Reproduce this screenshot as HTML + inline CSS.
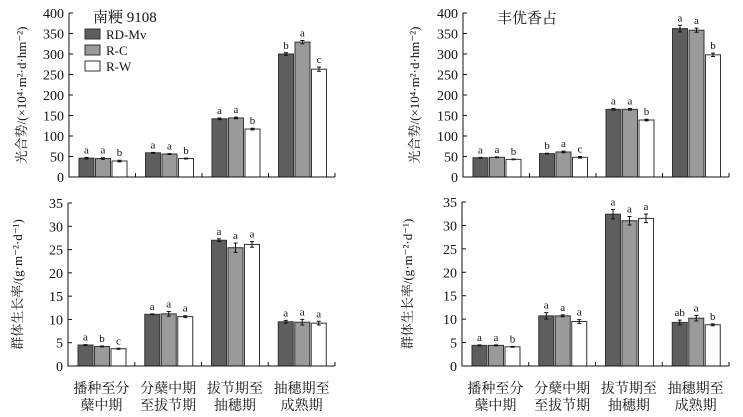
<!DOCTYPE html>
<html><head><meta charset="utf-8"><style>body{margin:0;background:#fff}svg{display:block}text{font-family:"Liberation Serif","Noto Serif CJK SC",serif;fill:#111}</style></head>
<body>
<svg id="c" width="743" height="417"></svg>
<script>
const categories=[["播种至分","蘖中期"],["分蘖中期","至拔节期"],["拔节期至","抽穗期"],["抽穗期至","成熟期"]];
const seriesNames=["RD-Mv","R-C","R-W"];
const tlValues=[[46,45,39],[59,56,45],[142,144,117],[300,329,263]];
const tlErr=[[2,2,2],[1,1,1],[2,2,2],[3,4,5]];
const tlLetters=[["a","a","b"],["a","a","b"],["a","a","b"],["b","a","c"]];
const trValues=[[47,48,43],[57,61,48],[165,165,139],[362,358,298]];
const trErr=[[1,1,1],[1,2,2],[2,2,2],[8,5,4]];
const trLetters=[["a","a","b"],["b","a","c"],["a","a","b"],["a","a","b"]];
const blValues=[[4.5,4.2,3.7],[11.1,11.2,10.6],[27,25.4,26.1],[9.5,9.4,9.2]];
const blErr=[[0.1,0.1,0.1],[0.1,0.5,0.2],[0.3,1,0.6],[0.3,0.6,0.4]];
const blLetters=[["a","b","c"],["a","a","a"],["a","a","a"],["a","a","a"]];
const brValues=[[4.4,4.4,4.1],[10.7,10.7,9.5],[32.4,31,31.5],[9.3,10.2,8.8]];
const brErr=[[0.1,0.1,0.1],[0.7,0.2,0.4],[1,0.9,0.9],[0.5,0.6,0.2]];
const brLetters=[["a","a","b"],["a","a","a"],["a","a","a"],["ab","a","b"]];
const topTicks=[0,50,100,150,200,250,300,350,400];
const botTicks=[0,5,10,15,20,25,30,35];
const fills=["#5e5e5e","#9a9a9a","#ffffff"];
const svg=document.getElementById('c');const NS="http://www.w3.org/2000/svg";
function el(t,a,p){const e=document.createElementNS(NS,t);for(const k in a)e.setAttribute(k,a[k]);(p||svg).appendChild(e);return e;}
function txt(s,a,p){const e=el('text',a,p);e.textContent=s;return e;}
function panel(name,x0,x1,yTop,yBot,max,ticks,vals,errs,lets,yTitle,titleX,showCats){
 const g=el('g',{});
 const ys=v=>yBot-(v/max)*(yBot-yTop);
 const gw=(x1-x0)/4,bw=15,gap=1.5;
 vals.forEach((grp,i)=>grp.forEach((v,j)=>{
  const x=x0+i*gw+10+j*(bw+gap);const y=ys(v);
  const r=el('rect',{x:x,y:y,width:bw,height:yBot-y,fill:fills[j],stroke:"#333","stroke-width":1},g);
  
  const cx=x+bw/2,e=errs[i][j];
  el('path',{d:`M${cx} ${ys(v+e)}V${ys(v-e)}M${cx-2} ${ys(v+e)}h4M${cx-2} ${ys(v-e)}h4`,stroke:"#111","stroke-width":1,fill:"none"},g);
  txt(lets[i][j],{x:cx,y:ys(v+e)-4,"text-anchor":"middle","font-size":11},g);
 }));
 el('path',{d:`M${x0} ${yTop}V${yBot}H${x1}`,stroke:"#111","stroke-width":1,fill:"none"},g);
 for(let i=1;i<=4;i++)el('path',{d:`M${x0+i*gw} ${yBot}v-4`,stroke:"#111",fill:"none"},g);
 ticks.forEach(t=>{const y=ys(t);el('path',{d:`M${x0} ${y}h4`,stroke:"#111",fill:"none"},g);
  txt(t,{x:x0-5,y:y+5,"text-anchor":"end","font-size":14},g);});
 const yt=txt(yTitle,{x:0,y:0,"text-anchor":"middle","font-size":13,fill:"#8b4a1a",transform:`translate(${titleX},${(yTop+yBot)/2}) rotate(-90)`},g);
 
 if(showCats)categories.forEach((c,i)=>{const cx=x0+i*gw+gw/2;
  txt(c[0],{x:cx,y:yBot+27,"text-anchor":"middle","font-size":14},g);
  txt(c[1],{x:cx,y:yBot+44,"text-anchor":"middle","font-size":14},g);});
 return g;
}
const t1="光合势/(×10⁴·m²·d·hm⁻²)",t2="群体生长率/(g·m⁻²·d⁻¹)";
panel('panel-nangeng-potential',69,335,13,177,400,topTicks,tlValues,tlErr,tlLetters,t1,26,false);
panel('panel-fengyou-potential',463,729,13,177,400,topTicks,trValues,trErr,trLetters,t1,419,false);
panel('panel-nangeng-growth',68,335,203,366,35,botTicks,blValues,blErr,blLetters,t2,22,true);
panel('panel-fengyou-growth',462,729,202,366,35,botTicks,brValues,brErr,brLetters,t2,412,true);
const tt=txt("南粳 9108",{x:93,y:22,"font-size":15});
const t3=txt("丰优香占",{x:497,y:23,"font-size":15});
const lg=el('g',{});
seriesNames.forEach((n,j)=>{const y=29+j*16;
 const r=el('rect',{x:85,y:y,width:15,height:10,fill:fills[j],stroke:"#333"},lg);
 
 txt(n,{x:106,y:y+10,"font-size":13},lg);});
</script>
</body></html>
